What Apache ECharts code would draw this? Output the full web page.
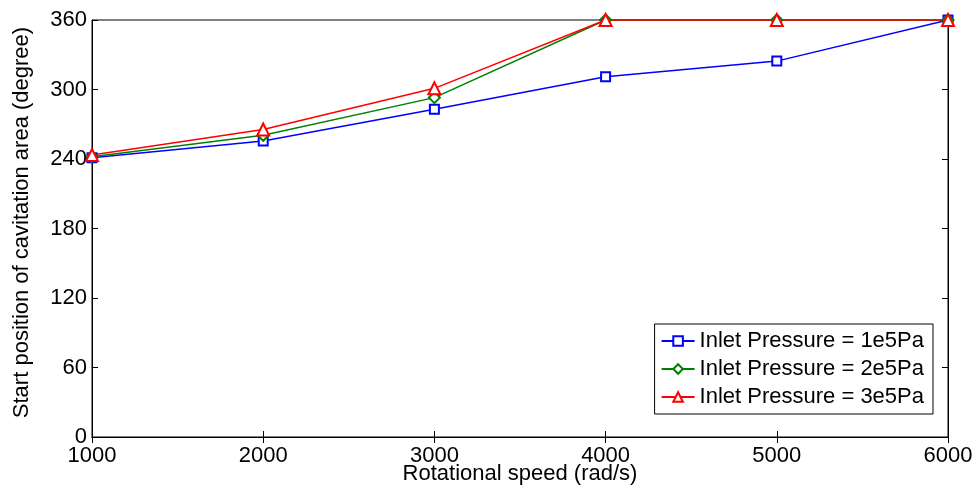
<!DOCTYPE html>
<html><head><meta charset="utf-8">
<script src="https://cdn.jsdelivr.net/npm/echarts@6/dist/echarts.min.js"></script>
<style>html,body{margin:0;padding:0;background:#fff}#c{width:978px;height:488px}</style>
</head><body><div id="c"></div>
<script>
const speeds = [1000, 2000, 3000, 4000, 5000, 6000];
const p1 = [241, 255.5, 283, 311, 324.5, 360];
const p2 = [242, 260.5, 293, 360, 360, 360];
const p3 = [243.5, 265.5, 301, 360, 360, 360];
const names = ['Inlet Pressure = 1e5Pa', 'Inlet Pressure = 2e5Pa', 'Inlet Pressure = 3e5Pa'];
const xTitle = 'Rotational speed (rad/s)';
const yTitle = 'Start position of cavitation area (degree)';

const font = 'Liberation Sans, Arial, sans-serif';
const fs = 22;
const chart = echarts.init(document.getElementById('c'));
const tick = {show: true, inside: true, length: 6, lineStyle: {color: '#000', width: 1}};
const mk = (vals) => speeds.map((s, i) => [s, vals[i]]);
chart.setOption({
  animation: false,
  grid: {left: 92, right: 30, top: 20, bottom: 51, show: true, borderColor: '#000', borderWidth: 1,
         containLabel: false, outerBoundsMode: 'none'},
  legend: {
    right: 45, top: 324, orient: 'vertical', itemWidth: 33, itemHeight: 12, itemGap: 6,
    borderColor: '#000', borderWidth: 1, padding: [6, 9, 6, 6], backgroundColor: '#fff',
    textStyle: {fontFamily: font, fontSize: fs, color: '#000', lineHeight: 22},
    data: names
  },
  xAxis: [
    {type: 'value', min: 1000, max: 6000, interval: 1000, position: 'bottom',
     axisLine: {show: true, lineStyle: {color: '#000'}}, axisTick: tick, splitLine: {show: false},
     axisLabel: {color: '#000', fontSize: fs, fontFamily: font, margin: 8, formatter: v => String(v)},
     name: xTitle, nameLocation: 'middle', nameGap: 26, nameMoveOverlap: false,
     nameTextStyle: {color: '#000', fontSize: fs, fontFamily: font}},
    {type: 'value', min: 1000, max: 6000, interval: 1000, position: 'top',
     axisLine: {show: true, lineStyle: {color: '#000'}}, axisTick: tick, splitLine: {show: false},
     axisLabel: {show: false}}
  ],
  yAxis: [
    {type: 'value', min: 0, max: 360, interval: 60, position: 'left',
     axisLine: {show: true, lineStyle: {color: '#000'}}, axisTick: tick, splitLine: {show: false},
     axisLabel: {color: '#000', fontSize: fs, fontFamily: font, margin: 5},
     name: yTitle, nameLocation: 'middle', nameGap: 59,
     nameTextStyle: {color: '#000', fontSize: fs, fontFamily: font, padding: [0, 0, 0, 12]}},
    {type: 'value', min: 0, max: 360, interval: 60, position: 'right',
     axisLine: {show: true, lineStyle: {color: '#000'}}, axisTick: tick, splitLine: {show: false},
     axisLabel: {show: false}}
  ],
  series: [
    {name: names[0], type: 'line', data: mk(p1), symbol: 'emptyRect', symbolSize: 9,
     color: '#0000ff', lineStyle: {width: 1.5}, itemStyle: {borderWidth: 1.5}},
    {name: names[1], type: 'line', data: mk(p2), symbol: 'emptyDiamond', symbolSize: 11,
     color: '#008000', lineStyle: {width: 1.5}, itemStyle: {borderWidth: 1.5}},
    {name: names[2], type: 'line', data: mk(p3), symbol: 'emptyTriangle', symbolSize: 12,
     color: '#ff0000', lineStyle: {width: 1.5}, itemStyle: {borderWidth: 1.5}}
  ]
});
</script></body></html>
